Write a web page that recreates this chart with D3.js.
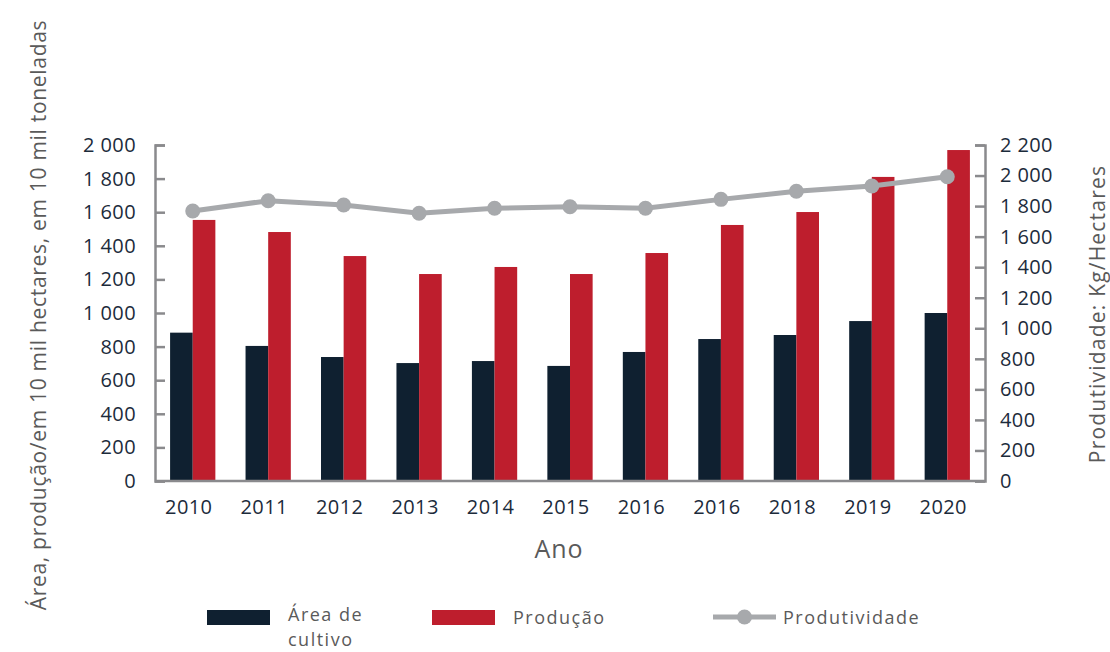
<!DOCTYPE html>
<html>
<head>
<meta charset="utf-8">
<script src="https://cdn.jsdelivr.net/npm/d3@7"></script>
<style>
  body { margin: 0; background: #fff; }
  svg { font-family: "Open Sans", sans-serif; }
</style>
</head>
<body>
<svg width="1110" height="652"></svg>
<script>
// DATA
var years = ["2010", "2011", "2012", "2013", "2014", "2015", "2016", "2016", "2018", "2019", "2020"];
var area = [883, 804, 738, 702, 714, 685, 768, 845, 869, 952, 1000];
var producao = [1554, 1482, 1339, 1232, 1274, 1232, 1357, 1524, 1601, 1810, 1970];
var produtividade = [1768, 1835, 1807, 1753, 1786, 1796, 1786, 1844, 1897, 1932, 1992];
var leftTicks = [0, 200, 400, 600, 800, 1000, 1200, 1400, 1600, 1800, 2000];
var rightTicks = [0, 200, 400, 600, 800, 1000, 1200, 1400, 1600, 1800, 2000, 2200];

var cDark = "#0f2030", cRed = "#be1e2d", cGray = "#a7a9ac", cAxis = "#8a8a8d",
    cTick = "#1c2b3b", cTitle = "#5a5a5a";

var svg = d3.select("svg"),
    margin = { left: 155, right: 125, top: 145, bottom: 171 },
    W = 1110, H = 652,
    x0 = margin.left, x1 = W - margin.right,
    yTop = margin.top, yBot = H - margin.bottom;

var idx = d3.range(years.length);
var x = d3.scaleBand().domain(idx).range([x0, x1]).padding(0);
var yL = d3.scaleLinear().domain([0, 2000]).range([yBot, yTop]);
var yR = d3.scaleLinear().domain([0, 2200]).range([yBot, yTop]);
var bw = x.step() * 0.3;

function fmt(d) { return d >= 1000 ? d3.format(",")(d).replace(",", " ") : "" + d; }

// BARS
svg.append("g").selectAll("rect").data(idx).enter().append("rect")
    .attr("x", function (i) { return x(i) + x.bandwidth() / 2 - bw; })
    .attr("y", function (i) { return yL(area[i]); })
    .attr("width", bw)
    .attr("height", function (i) { return yBot - yL(area[i]); })
    .attr("fill", cDark);

svg.append("g").selectAll("rect").data(idx).enter().append("rect")
    .attr("x", function (i) { return x(i) + x.bandwidth() / 2; })
    .attr("y", function (i) { return yL(producao[i]); })
    .attr("width", bw)
    .attr("height", function (i) { return yBot - yL(producao[i]); })
    .attr("fill", cRed);

// AXES
var axL = d3.axisLeft(yL).tickValues(leftTicks).tickSize(-10).tickPadding(19).tickFormat(fmt);
var gL = svg.append("g").attr("transform", "translate(" + x0 + ",0)").call(axL);
var axR = d3.axisRight(yR).tickValues(rightTicks).tickSize(-10).tickPadding(15).tickFormat(fmt);
var gR = svg.append("g").attr("transform", "translate(" + x1 + ",0)").call(axR);
var axB = d3.axisBottom(x).tickSize(0).tickPadding(19).tickFormat(function (i) { return years[i]; });
var gB = svg.append("g").attr("transform", "translate(-4," + yBot + ")").call(axB);

[gL, gR, gB].forEach(function (g) {
    g.select(".domain").attr("stroke", cAxis).attr("stroke-width", 2.5);
    g.selectAll(".tick line").attr("stroke", cAxis).attr("stroke-width", 2.5);
    g.selectAll(".tick text").attr("fill", cTick)
        .style("font-size", "20px").style("font-family", "Open Sans").style("letter-spacing", "0.4px");
});
gB.select(".domain").attr("d", "M" + (x0 + 4) + ",0H" + (x1 + 4));

// LINE
var line = d3.line()
    .x(function (i) { return x(i) + x.bandwidth() / 2; })
    .y(function (i) { return yR(produtividade[i]); });
svg.append("path").datum(idx).attr("d", line)
    .attr("fill", "none").attr("stroke", cGray).attr("stroke-width", 5);
svg.append("g").selectAll("circle").data(idx).enter().append("circle")
    .attr("cx", function (i) { return x(i) + x.bandwidth() / 2; })
    .attr("cy", function (i) { return yR(produtividade[i]); })
    .attr("r", 7.5).attr("fill", cGray);

// TITLES
svg.append("text")
    .attr("transform", "translate(46,315) rotate(-90)")
    .attr("text-anchor", "middle").attr("fill", cTitle)
    .style("font-size", "21px").style("letter-spacing", "0.7px")
    .text("Área, produção/em 10 mil hectares, em 10 mil toneladas");
svg.append("text")
    .attr("transform", "translate(1105,314) rotate(-90)")
    .attr("text-anchor", "middle").attr("fill", cTitle)
    .style("font-size", "21px").style("letter-spacing", "1.2px")
    .text("Produtividade: Kg/Hectares");
svg.append("text")
    .attr("x", 559).attr("y", 558)
    .attr("text-anchor", "middle").attr("fill", cTitle)
    .style("font-size", "25px").style("letter-spacing", "1px")
    .text("Ano");

// LEGEND
var lg = svg.append("g").style("font-size", "18px").style("letter-spacing", "1.5px").attr("fill", cTitle);
lg.append("rect").attr("x", 207).attr("y", 610).attr("width", 63).attr("height", 15).attr("fill", cDark);
lg.append("text").attr("x", 288).attr("y", 621).text("Área de");
lg.append("text").attr("x", 288).attr("y", 646).text("cultivo");
lg.append("rect").attr("x", 432).attr("y", 610).attr("width", 63).attr("height", 15).attr("fill", cRed);
lg.append("text").attr("x", 513).attr("y", 624).text("Produção");
lg.append("line").attr("x1", 713).attr("x2", 776).attr("y1", 617).attr("y2", 617)
    .attr("stroke", cGray).attr("stroke-width", 5);
lg.append("circle").attr("cx", 744.5).attr("cy", 617).attr("r", 7.5).attr("fill", cGray);
lg.append("text").attr("x", 783).attr("y", 624).text("Produtividade");
</script>
</body>
</html>
